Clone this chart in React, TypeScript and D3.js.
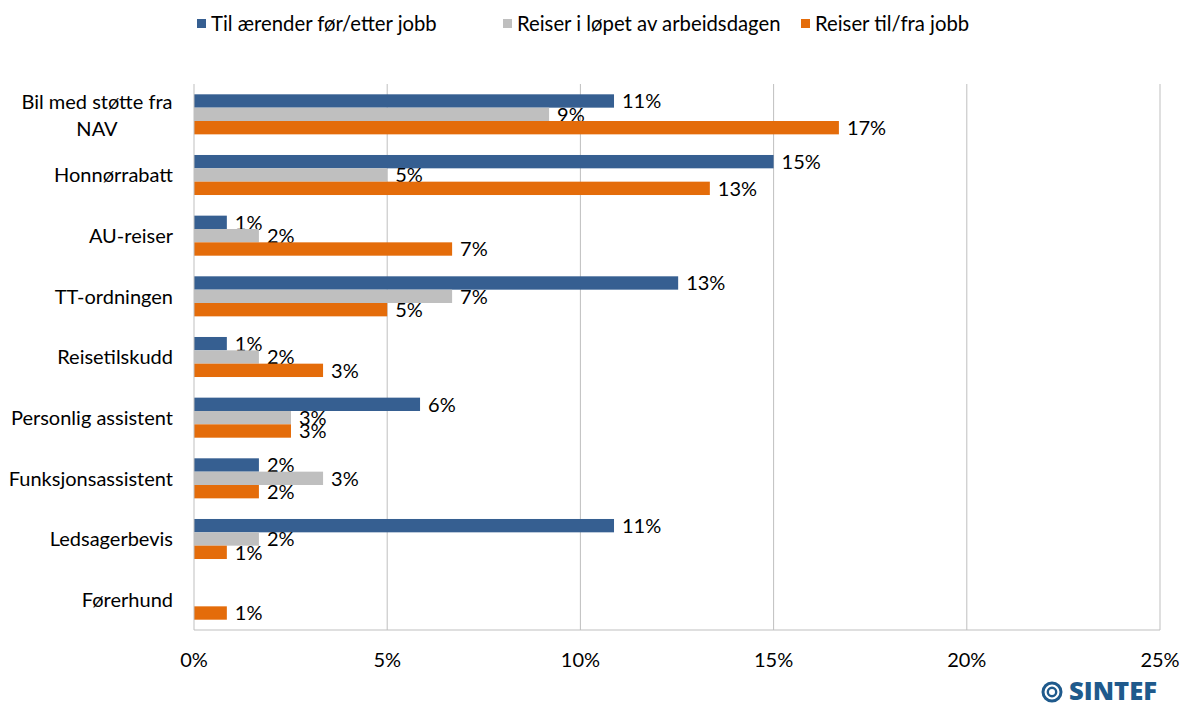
import React from "react";
import * as d3 from "d3";

const categories = [
  "Bil med støtte fra NAV",
  "Honnørrabatt",
  "AU-reiser",
  "TT-ordningen",
  "Reisetilskudd",
  "Personlig assistent",
  "Funksjonsassistent",
  "Ledsagerbevis",
  "Førerhund",
];
const seriesNames = ["Til ærender før/etter jobb", "Reiser i løpet av arbeidsdagen", "Reiser til/fra jobb"];
const seriesColors = ["#365F91", "#BFBFBF", "#E46C0A"];
const errands = [10.87, 15.0, 0.85, 12.53, 0.85, 5.85, 1.68, 10.87, 0];
const duringWork = [9.19, 5.0, 1.68, 6.68, 1.68, 2.51, 3.34, 1.68, 0];
const commute = [16.69, 13.35, 6.68, 5.0, 3.34, 2.51, 1.68, 0.85, 0.85];
const xTicks = [0, 5, 10, 15, 20, 25];

const seriesValues = [errands, duringWork, commute];

export default function App() {
  const W = 1183, H = 707;
  const left = 194, right = 1160, top = 84, bottom = 630;
  const font = "Lato, 'Open Sans', sans-serif";
  const fs = 20;
  const x = d3.scaleLinear().domain([0, 25]).range([left, right]);
  const y = d3.scaleBand<string>().domain(categories).range([top, bottom]).paddingInner(0.34).paddingOuter(0.17);
  const sub = d3.scaleBand<number>().domain([0, 1, 2]).range([0, y.bandwidth()]);
  const legendX = [197, 503, 801];

  return (
    <svg width={W} height={H} style={{ position: "absolute", left: 0, top: 0, background: "#fff" }} fontFamily={font}>
      {/* gridlines */}
      {xTicks.slice(1).map((t) => (
        <line key={t} x1={x(t)} x2={x(t)} y1={top} y2={bottom} stroke="#BFBFBF" strokeWidth={1} />
      ))}
      {/* bars */}
      {categories.map((c, ci) =>
        seriesValues.map((vals, si) => {
          const v = vals[ci];
          if (v <= 0) return null;
          const by = (y(c) as number) + (sub(si) as number);
          const bh = sub.bandwidth();
          return (
            <g key={c + si}>
              <rect x={x(0)} y={by} width={x(v) - x(0)} height={bh} fill={seriesColors[si]} />
              <text x={x(v) + 8} y={by + bh / 2} dy="0.36em" fontSize={fs} fill="#000">
                {Math.round(v) + "%"}
              </text>
            </g>
          );
        })
      )}
      {/* axes */}
      <line x1={left} x2={left} y1={top} y2={bottom} stroke="#BFBFBF" strokeWidth={1} />
      <line x1={left} x2={right} y1={bottom} y2={bottom} stroke="#BFBFBF" strokeWidth={1} />
      {xTicks.map((t) => (
        <text key={t} x={x(t)} y={660} dy="0.36em" textAnchor="middle" fontSize={fs} fill="#000">
          {t + "%"}
        </text>
      ))}
      {/* category labels */}
      {categories.map((c) => {
        const cy = (y(c) as number) + y.bandwidth() / 2;
        if (c === "Bil med støtte fra NAV") {
          return (
            <text key={c} textAnchor="middle" fontSize={fs} fill="#000">
              <tspan x={97} y={cy - 13} dy="0.36em">Bil med støtte fra</tspan>
              <tspan x={97} y={cy + 14} dy="0.36em">NAV</tspan>
            </text>
          );
        }
        return (
          <text key={c} x={173} y={cy} dy="0.36em" textAnchor="end" fontSize={fs} fill="#000">
            {c}
          </text>
        );
      })}
      {/* legend */}
      {seriesNames.map((n, i) => (
        <g key={n}>
          <rect x={legendX[i]} y={19} width={9} height={9} fill={seriesColors[i]} />
          <text x={legendX[i] + 14} y={24} dy="0.36em" fontSize={20.3} fill="#000">
            {n}
          </text>
        </g>
      ))}
      {/* SINTEF logo */}
      <g>
        <circle cx={1052} cy={692} r={9} fill="none" stroke="#1F5A8C" strokeWidth={3} />
        <circle cx={1052} cy={692} r={4.2} fill="none" stroke="#1F5A8C" strokeWidth={2.4} />
        <text x={1069} y={700} fontSize={24} fontWeight={800} fill="#1F5A8C" fontFamily="'Open Sans', sans-serif"
          textLength={88} lengthAdjust="spacingAndGlyphs">
          SINTEF
        </text>
      </g>
    </svg>
  );
}
